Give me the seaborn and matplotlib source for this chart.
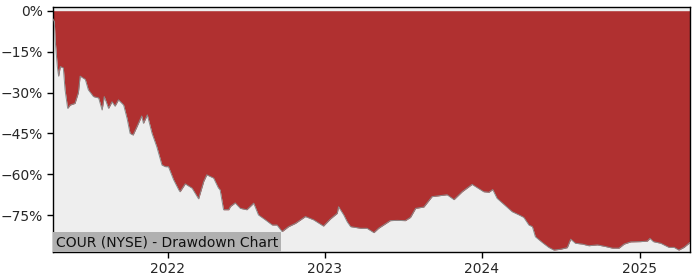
import matplotlib
matplotlib.use("Agg")
import matplotlib.pyplot as plt
import matplotlib.dates as mdates
from matplotlib.ticker import FuncFormatter
import seaborn as sns
import pandas as pd

dates = [
    "2021-04-10", "2021-04-13", "2021-04-15", "2021-04-20", "2021-04-23", "2021-04-27",
    "2021-05-04", "2021-05-08", "2021-05-14", "2021-05-20", "2021-05-31", "2021-06-08",
    "2021-06-12", "2021-06-24", "2021-07-01", "2021-07-13", "2021-07-25", "2021-08-02",
    "2021-08-07", "2021-08-17", "2021-08-25", "2021-09-01", "2021-09-09", "2021-09-21",
    "2021-09-29", "2021-10-06", "2021-10-13", "2021-10-22", "2021-11-02", "2021-11-06",
    "2021-11-15", "2021-11-26", "2021-12-07", "2021-12-19", "2021-12-27", "2022-01-03",
    "2022-01-15", "2022-01-27", "2022-01-30", "2022-02-11", "2022-02-27", "2022-03-14",
    "2022-03-26", "2022-04-02", "2022-04-18", "2022-04-29", "2022-05-03", "2022-05-11",
    "2022-05-23", "2022-05-27", "2022-06-07", "2022-06-19", "2022-07-04", "2022-07-20",
    "2022-07-31", "2022-08-16", "2022-09-01", "2022-09-12", "2022-09-24", "2022-10-09",
    "2022-10-25", "2022-11-17", "2022-12-06", "2022-12-29", "2023-01-14", "2023-01-30",
    "2023-02-02", "2023-02-14", "2023-02-22", "2023-03-02", "2023-03-25", "2023-04-09",
    "2023-04-25", "2023-05-06", "2023-06-02", "2023-06-18", "2023-07-07", "2023-07-19",
    "2023-07-31", "2023-08-19", "2023-09-07", "2023-09-27", "2023-10-12", "2023-10-28",
    "2023-11-16", "2023-12-09", "2023-12-25", "2024-01-05", "2024-01-17", "2024-01-26",
    "2024-02-05", "2024-02-25", "2024-03-11", "2024-03-27", "2024-04-07", "2024-04-19",
    "2024-04-27", "2024-05-04", "2024-05-20", "2024-06-04", "2024-06-16", "2024-07-01",
    "2024-07-17", "2024-07-25", "2024-08-05", "2024-08-21", "2024-09-05", "2024-09-25",
    "2024-10-14", "2024-10-30", "2024-11-14", "2024-11-26", "2024-12-11", "2025-01-03",
    "2025-01-19", "2025-01-25", "2025-02-02", "2025-02-19", "2025-03-10", "2025-03-22",
    "2025-04-02", "2025-04-14", "2025-04-28",
]
drawdown = [
    -3.0, -4.0, -10.7, -20.4, -24.0, -20.5,
    -21.0, -29.0, -35.8, -34.6, -34.0, -30.0,
    -24.0, -25.2, -29.0, -31.5, -32.0, -36.4,
    -31.5, -35.8, -33.4, -35.0, -32.7, -34.6,
    -39.5, -45.0, -45.6, -42.5, -38.6, -41.3,
    -38.2, -45.0, -49.9, -56.6, -57.2, -57.2,
    -62.0, -65.7, -66.4, -63.5, -65.1, -69.0,
    -62.6, -60.2, -61.4, -65.0, -65.7, -73.0,
    -73.0, -71.8, -70.5, -72.5, -73.0, -70.6,
    -74.9, -76.7, -78.6, -78.6, -81.0, -79.2,
    -78.0, -75.5, -76.7, -79.0, -76.4, -74.3,
    -71.9, -74.9, -77.4, -79.2, -79.8, -79.8,
    -81.4, -79.8, -77.0, -76.9, -77.0, -75.8,
    -72.5, -72.0, -68.2, -67.8, -67.5, -69.3,
    -66.4, -63.7, -65.3, -66.4, -66.6, -65.6,
    -68.8, -71.6, -73.7, -74.9, -75.8, -78.6,
    -79.2, -82.9, -85.0, -86.8, -87.8, -87.5,
    -86.9, -83.8, -85.3, -85.6, -86.2, -85.9,
    -86.5, -87.1, -87.1, -85.6, -84.8, -84.7,
    -84.5, -83.5, -84.7, -85.3, -86.8, -86.8,
    -87.8, -86.8, -85.0,
]
y_ticks = [0, -15, -30, -45, -60, -75]
label_text = "COUR (NYSE) - Drawdown Chart"

df = pd.DataFrame({"date": pd.to_datetime(dates), "drawdown": drawdown})

sns.set_style("white")
plt.rcParams["font.family"] = ["DejaVu Sans"]

fig = plt.figure(figsize=(7, 2.8), dpi=100)
ax = fig.add_axes([53 / 700, 1 - 252 / 280, (690 - 53) / 700, (252 - 7.3) / 280])
ax.set_facecolor("#EEEEEE")

ax.fill_between(df["date"], df["drawdown"], 0, color="#B03030", linewidth=0, zorder=2)
sns.lineplot(data=df, x="date", y="drawdown", ax=ax, color="#8A8A8A", linewidth=0.7, zorder=3)

ax.set_xlim(df["date"].iloc[0], df["date"].iloc[-1])
ax.set_ylim(-88.5, 1.25)
ax.set_yticks(y_ticks)
ax.yaxis.set_major_formatter(FuncFormatter(lambda v, p: f"{int(v)}%".replace("-", "\u2212")))
ax.xaxis.set_major_locator(mdates.YearLocator())
ax.xaxis.set_major_formatter(mdates.DateFormatter("%Y"))
ax.set_xlabel("")
ax.set_ylabel("")
ax.tick_params(axis="both", which="major", labelsize=10, length=4, width=1, color="black",
               left=True, bottom=True, direction="out")
for s in ax.spines.values():
    s.set_visible(True)
    s.set_color("black")
    s.set_linewidth(1)

ax.text(0.0045, 0.0115, label_text, transform=ax.transAxes, fontsize=10, color="#111111",
        ha="left", va="bottom", zorder=5,
        bbox=dict(facecolor="#B0B0B0", edgecolor="none", boxstyle="square,pad=0.2"))

fig.savefig("out.png", dpi=100)
